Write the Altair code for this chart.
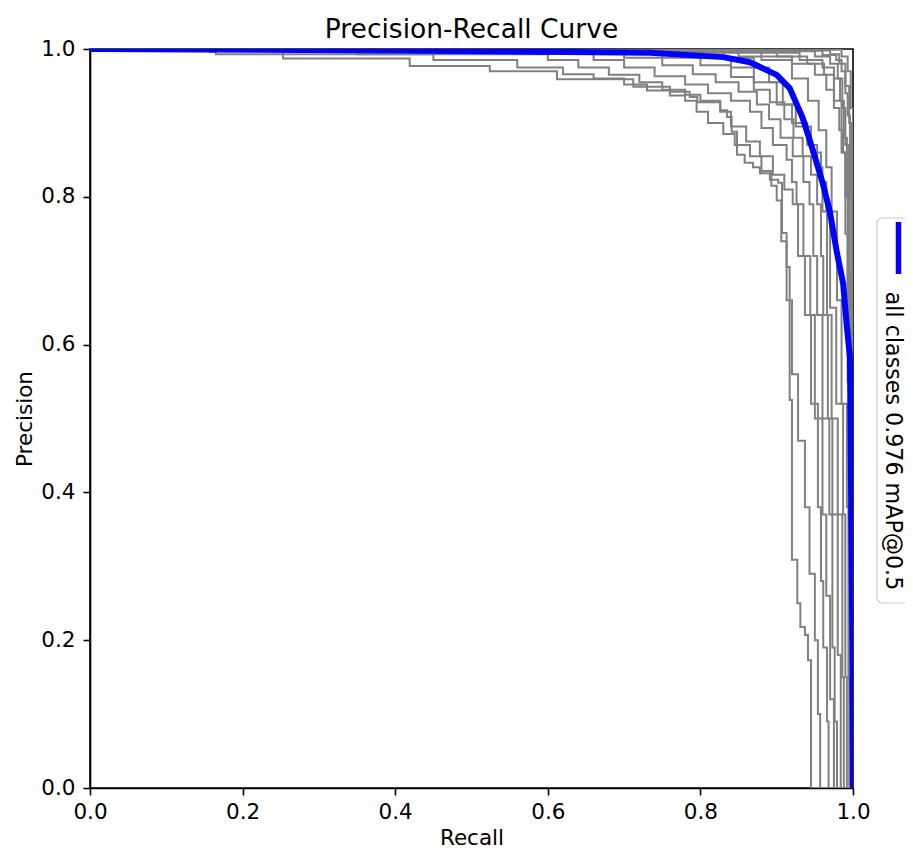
import altair as alt
import pandas as pd

title_text = "Precision-Recall Curve"
x_title = "Recall"
y_title = "Precision"
legend_label = "all classes 0.976 mAP@0.5"
tick_values = [0.0, 0.2, 0.4, 0.6, 0.8, 1.0]

# ---- per-class curves (recall, precision) ----
a1_r = [0, 0.253, 0.419, 0.524, 0.612, 0.712, 0.760, 0.786, 0.796, 0.826, 0.835, 0.841, 0.848, 0.858, 0.869, 0.878, 0.891, 0.902, 0.907, 0.913, 0.917, 0.920, 0.927, 0.931, 0.937, 0.941, 0.945, 1.0]
a1_p = [1.0, 0.987, 0.977, 0.970, 0.959, 0.949, 0.942, 0.935, 0.928, 0.917, 0.908, 0.888, 0.857, 0.846, 0.840, 0.832, 0.823, 0.819, 0.751, 0.705, 0.525, 0.309, 0.250, 0.218, 0.207, 0.173, 0.0, 0.0]

a2_r = [0, 0.157, 0.165, 0.45, 0.56, 0.62, 0.66, 0.70, 0.73, 0.76, 0.78, 0.795, 0.81, 0.83, 0.845, 0.865, 0.88, 0.893, 0.900, 0.906, 0.913, 0.920, 0.928, 0.937, 0.943, 0.950, 0.954, 0.957, 1.0]
a2_p = [1.0, 0.996, 0.993, 0.985, 0.975, 0.966, 0.960, 0.952, 0.944, 0.937, 0.930, 0.915, 0.900, 0.885, 0.870, 0.855, 0.835, 0.815, 0.795, 0.74, 0.66, 0.56, 0.47, 0.38, 0.29, 0.20, 0.10, 0.0, 0.0]

a3_r = [0, 0.35, 0.60, 0.64, 0.68, 0.72, 0.75, 0.78, 0.80, 0.826, 0.84, 0.86, 0.878, 0.895, 0.910, 0.921, 0.928, 0.937, 0.945, 0.954, 0.958, 0.961, 0.966, 0.968, 1.0]
a3_p = [1.0, 0.993, 0.985, 0.975, 0.965, 0.955, 0.945, 0.938, 0.930, 0.915, 0.895, 0.875, 0.855, 0.830, 0.810, 0.790, 0.72, 0.64, 0.52, 0.38, 0.28, 0.19, 0.09, 0.0, 0.0]

a4_r = [0, 0.45, 0.66, 0.70, 0.74, 0.78, 0.81, 0.84, 0.865, 0.88, 0.895, 0.913, 0.920, 0.926, 0.935, 0.944, 0.950, 0.960, 0.965, 0.970, 0.975, 1.0]
a4_p = [1.0, 0.994, 0.985, 0.975, 0.963, 0.952, 0.940, 0.930, 0.915, 0.893, 0.870, 0.850, 0.820, 0.790, 0.72, 0.64, 0.50, 0.37, 0.26, 0.12, 0.0, 0.0]

b1_r = [0, 0.5, 0.70, 0.75, 0.79, 0.82, 0.85, 0.874, 0.89, 0.905, 0.921, 0.935, 0.943, 0.948, 0.953, 0.960, 0.969, 0.973, 0.976, 0.979, 1.0]
b1_p = [1.0, 0.995, 0.988, 0.978, 0.966, 0.955, 0.942, 0.925, 0.905, 0.880, 0.855, 0.82, 0.79, 0.72, 0.64, 0.50, 0.37, 0.19, 0.09, 0.0, 0.0]

b2_r = [0, 0.55, 0.75, 0.80, 0.84, 0.87, 0.891, 0.91, 0.922, 0.934, 0.945, 0.953, 0.958, 0.961, 0.967, 0.973, 0.980, 0.984, 1.0]
b2_p = [1.0, 0.995, 0.988, 0.978, 0.962, 0.945, 0.928, 0.905, 0.880, 0.855, 0.83, 0.79, 0.72, 0.64, 0.50, 0.37, 0.18, 0.0, 0.0]

b3_r = [0, 0.6, 0.80, 0.84, 0.87, 0.90, 0.92, 0.94, 0.953, 0.960, 0.966, 0.972, 0.980, 0.986, 0.988, 1.0]
b3_p = [1.0, 0.995, 0.988, 0.975, 0.955, 0.925, 0.90, 0.87, 0.84, 0.78, 0.64, 0.50, 0.37, 0.15, 0.0, 0.0]

b4_r = [0, 0.65, 0.83, 0.87, 0.89, 0.908, 0.925, 0.945, 0.958, 0.965, 0.970, 0.978, 0.987, 0.990, 0.992, 1.0]
b4_p = [1.0, 0.996, 0.988, 0.975, 0.955, 0.925, 0.895, 0.86, 0.82, 0.78, 0.65, 0.52, 0.37, 0.15, 0.0, 0.0]

b5_r = [0, 0.7, 0.88, 0.92, 0.941, 0.955, 0.965, 0.972, 0.979, 0.985, 0.992, 0.994, 0.995, 1.0]
b5_p = [1.0, 0.996, 0.985, 0.96, 0.93, 0.89, 0.84, 0.78, 0.66, 0.52, 0.38, 0.15, 0.0, 0.0]

c1_r = [0, 0.75, 0.90, 0.94, 0.962, 0.975, 0.985, 0.990, 0.993, 0.996, 1.0]
c1_p = [1.0, 0.997, 0.99, 0.98, 0.965, 0.93, 0.86, 0.75, 0.55, 0.25, 0.0]

c2_r = [0, 0.8, 0.93, 0.96, 0.975, 0.983, 0.988, 0.992, 0.995, 0.998, 1.0]
c2_p = [1.0, 0.995, 0.985, 0.975, 0.96, 0.93, 0.88, 0.80, 0.60, 0.30, 0.0]

c3_r = [0, 0.85, 0.95, 0.97, 0.98, 0.986, 0.99, 0.994, 0.997, 1.0]
c3_p = [1.0, 0.997, 0.99, 0.98, 0.96, 0.92, 0.87, 0.70, 0.40, 0.0]

c4_r = [0, 0.9, 0.96, 0.978, 0.985, 0.99, 0.993, 0.996, 0.998, 1.0]
c4_p = [1.0, 0.998, 0.992, 0.985, 0.97, 0.94, 0.91, 0.80, 0.50, 0.0]

c5_r = [0, 0.92, 0.97, 0.982, 0.99, 0.995, 0.998, 1.0]
c5_p = [1.0, 0.998, 0.993, 0.98, 0.95, 0.90, 0.60, 0.0]

c6_r = [0, 0.6, 0.85, 0.92, 0.95, 0.965, 0.975, 0.982, 0.987, 0.99, 0.993, 1.0]
c6_p = [1.0, 0.997, 0.99, 0.98, 0.965, 0.945, 0.92, 0.89, 0.86, 0.80, 0.65, 0.0]

c7_r = [0, 0.95, 0.985, 0.993, 0.997, 1.0]
c7_p = [1.0, 0.999, 0.99, 0.97, 0.92, 0.0]

# ---- all classes mean curve ----
all_r = [0, 0.406, 0.734, 0.830, 0.865, 0.900, 0.917, 0.934, 0.948, 0.961, 0.970, 0.979, 0.987, 0.992, 0.996, 0.997, 0.9987, 1.0]
all_p = [1.0, 0.998, 0.995, 0.989, 0.982, 0.965, 0.947, 0.907, 0.861, 0.816, 0.778, 0.724, 0.683, 0.624, 0.583, 0.457, 0.254, 0.0]

classes = {
    "a1": (a1_r, a1_p), "a2": (a2_r, a2_p), "a3": (a3_r, a3_p), "a4": (a4_r, a4_p),
    "b1": (b1_r, b1_p), "b2": (b2_r, b2_p), "b3": (b3_r, b3_p), "b4": (b4_r, b4_p),
    "b5": (b5_r, b5_p), "c1": (c1_r, c1_p), "c2": (c2_r, c2_p), "c3": (c3_r, c3_p),
    "c4": (c4_r, c4_p), "c5": (c5_r, c5_p), "c6": (c6_r, c6_p), "c7": (c7_r, c7_p),
}

rows = []
for name, (rs, ps) in classes.items():
    for i, (r, p) in enumerate(zip(rs, ps)):
        rows.append({"cls": name, "i": i, "recall": r, "precision": p})
gray_df = pd.DataFrame(rows)
all_df = pd.DataFrame({"i": list(range(len(all_r))), "recall": all_r, "precision": all_p})

FONT = "DejaVu Sans"

x_enc = alt.X("recall:Q", scale=alt.Scale(domain=[0, 1], nice=False, zero=False),
              axis=alt.Axis(values=tick_values, format=".1f", title=x_title,
                            labelPadding=6, labelFlush=False, labelOverlap=False,
                            titleY=56, titleBaseline="alphabetic"))
y_enc = alt.Y("precision:Q", scale=alt.Scale(domain=[0, 1], nice=False, zero=False),
              axis=alt.Axis(values=tick_values, format=".1f", title=y_title,
                            labelPadding=8, labelFlush=False, labelOverlap=False,
                            titleX=-59, titleY=369.5, titleBaseline="alphabetic"))

gray = alt.Chart(gray_df).mark_line(
    interpolate="step-after", color="#808080", strokeWidth=2, clip=True
).encode(x=x_enc, y=y_enc, detail="cls:N", order="i:Q")

blue = alt.Chart(all_df).mark_line(
    color="#0000ff", strokeWidth=6, clip=True, strokeJoin="round"
).encode(x="recall:Q", y="precision:Q", order="i:Q")

one = pd.DataFrame({"k": [0]})
title_mark = alt.Chart(one).mark_text(
    font=FONT, fontSize=26.5, align="center", baseline="alphabetic", color="black"
).encode(x=alt.value(381.5), y=alt.value(-11), text=alt.value(title_text))

legend_box = alt.Chart(one).mark_rect(
    fill="white", stroke="#cccccc", strokeWidth=1.2, cornerRadius=5
).encode(x=alt.value(787), x2=alt.value(845), y=alt.value(169), y2=alt.value(554))

legend_line = alt.Chart(one).mark_rule(color="#0000ff", strokeWidth=5.5).encode(
    x=alt.value(808.5), y=alt.value(173), y2=alt.value(225))

legend_text = alt.Chart(one).mark_text(
    angle=90, font=FONT, fontSize=22.2, align="center", baseline="middle", color="black"
).encode(x=alt.value(802.5), y=alt.value(392), text=alt.value(legend_label))

chart = alt.layer(gray, blue, title_mark, legend_box, legend_line, legend_text).properties(
    width=763, height=739,
    padding={"left": 82, "top": 41, "right": 52, "bottom": 62},
    autosize=alt.AutoSizeParams(type="none"),
    background="white",
).configure_view(stroke="black", strokeWidth=1.6).configure_axis(
    grid=False, domainColor="black", domainWidth=1.6, tickColor="black", tickWidth=1.6,
    tickSize=7, labelFont=FONT, labelFontSize=21.5, labelColor="black",
    titleFont=FONT, titleFontSize=21.5, titleFontWeight="normal", titleColor="black",
)

chart.save("out.html", embed_options={"renderer": "svg", "actions": False})
